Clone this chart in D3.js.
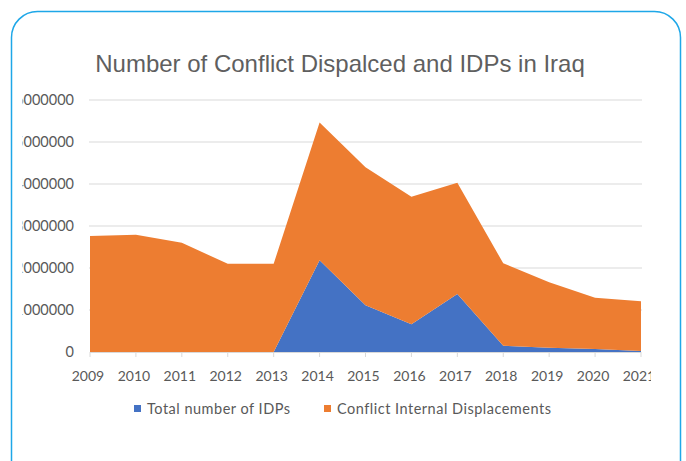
<!DOCTYPE html>
<html><head><meta charset="utf-8">
<script src="https://cdn.jsdelivr.net/npm/d3@7"></script>
<style>body{margin:0;background:#fff;}svg{display:block;}</style>
</head><body>
<svg id="c" width="686" height="461"></svg>
<script>
const years = [2009,2010,2011,2012,2013,2014,2015,2016,2017,2018,2019,2020,2021];
const totalIDPs = [0,0,0,0,0,2185000,1111000,659000,1379000,150000,104000,69000,23000];
const conflictDisplacements = [2760000,2790000,2600000,2100000,2100000,3280000,3290000,3035000,2648000,1962000,1555000,1224000,1187000];
const yTicks = [0,1000000,2000000,3000000,4000000,5000000,6000000];
const seriesNames = ["Total number of IDPs","Conflict Internal Displacements"];
const colors = ["#4472c4","#ed7d31"];

const svg = d3.select("#c");
// card
svg.append("rect").attr("x",11.5).attr("y",11.5).attr("width",669).attr("height",480)
  .attr("rx",26).attr("fill","#fff").attr("stroke","#1ea7e8").attr("stroke-width",1.5);

svg.append("text").attr("x",340).attr("y",72).attr("text-anchor","middle")
  .attr("font-family","Liberation Sans, Arial, sans-serif").attr("font-size",24)
  .attr("fill","#5f5f5f").text("Number of Conflict Dispalced and IDPs in Iraq");

const x = d3.scalePoint().domain(years).range([90,641]);
const y = d3.scaleLinear().domain([0,6000000]).range([352,100]);

// grid
svg.append("g").selectAll("line").data(yTicks.filter(d=>d>0)).join("line")
  .attr("x1",89).attr("x2",642).attr("y1",d=>y(d)).attr("y2",d=>y(d))
  .attr("stroke","#d9d9d9").attr("stroke-width",1);

// clip for y labels
svg.append("clipPath").attr("id","yl").append("rect").attr("x",22.5).attr("y",80).attr("width",60).attr("height",300);
const yAxis = svg.append("g").attr("clip-path","url(#yl)");
yAxis.selectAll("text").data(yTicks).join("text")
  .attr("x",74).attr("y",d=>y(d)).attr("dy","0.35em").attr("text-anchor","end")
  .attr("font-family","Lato, sans-serif").attr("font-size",14.5).attr("fill","#595959")
  .text(d=>d);

// stack
const data = years.map((yr,i)=>({year:yr, a:totalIDPs[i], b:conflictDisplacements[i]}));
const stack = d3.stack().keys(["a","b"])(data);
const area = d3.area().x(d=>x(d.data.year)).y0(d=>y(d[0])).y1(d=>y(d[1]));
svg.append("g").selectAll("path").data(stack).join("path")
  .attr("d",area).attr("fill",(d,i)=>colors[i]);

// x axis
svg.append("line").attr("x1",90).attr("x2",641).attr("y1",352.5).attr("y2",352.5).attr("stroke","#d9d9d9");
svg.append("g").selectAll("line").data(years).join("line")
  .attr("x1",d=>x(d)).attr("x2",d=>x(d)).attr("y1",352).attr("y2",357).attr("stroke","#d9d9d9");
svg.append("clipPath").attr("id","xl").append("rect").attr("x",40).attr("y",355).attr("width",611).attr("height",40);
svg.append("g").attr("clip-path","url(#xl)").selectAll("text").data(years).join("text")
  .attr("x",d=>x(d)-2).attr("y",381).attr("text-anchor","middle")
  .attr("font-family","Lato, sans-serif").attr("font-size",14).attr("fill","#595959")
  .text(d=>d);

// legend
const legX = [134,324];
const lg = svg.append("g").selectAll("g").data(seriesNames).join("g")
  .attr("transform",(d,i)=>`translate(${legX[i]},0)`);
lg.append("rect").attr("x",0).attr("y",405).attr("width",7).attr("height",7).attr("fill",(d,i)=>colors[i]);
lg.append("text").attr("x",13).attr("y",414).attr("font-family","Lato, sans-serif")
  .attr("font-size",14.5).attr("letter-spacing",0.5).attr("fill","#595959").text(d=>d);
</script>
</body></html>
